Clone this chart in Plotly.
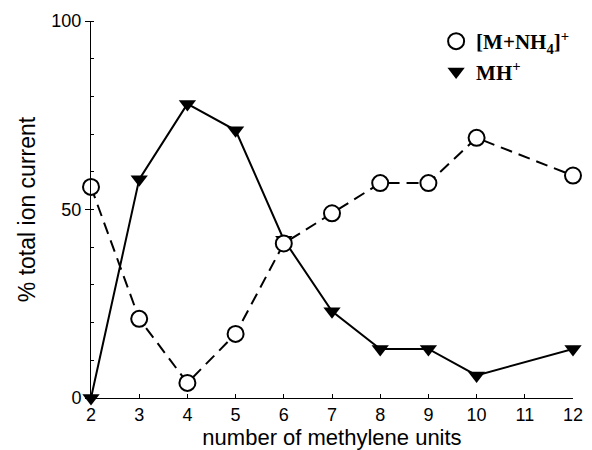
import plotly.graph_objects as go

methylene = [2, 3, 4, 5, 6, 7, 8, 9, 10, 12]
nh4_adduct = [56, 21, 4, 17, 41, 49, 57, 57, 69, 59]
mh_plus = [0, 58, 78, 71, 42, 23, 13, 13, 6, 13]
x_ticks = [2, 3, 4, 5, 6, 7, 8, 9, 10, 11, 12]
y_ticks = [0, 50, 100]

fig = go.Figure()
fig.add_trace(go.Scatter(
    x=methylene, y=mh_plus, mode="lines+markers", showlegend=False,
    line=dict(color="black", width=2),
    marker=dict(symbol="triangle-down", size=15, color="black"),
    cliponaxis=False))
fig.add_trace(go.Scatter(
    x=methylene, y=nh4_adduct, mode="lines+markers", showlegend=False,
    line=dict(color="black", width=2, dash="12px,7px"),
    marker=dict(symbol="circle", size=16, color="white",
                line=dict(color="black", width=2)),
    cliponaxis=False))
# legend-only entries (markers only)
fig.add_trace(go.Scatter(
    x=[None], y=[None], mode="markers", name="[M+NH<sub>4</sub>]<sup>+</sup>",
    marker=dict(symbol="circle", size=16, color="white",
                line=dict(color="black", width=2))))
fig.add_trace(go.Scatter(
    x=[None], y=[None], mode="markers", name="MH<sup>+</sup>",
    marker=dict(symbol="triangle-down", size=15, color="black")))

fig.update_layout(
    width=584, height=442,
    margin=dict(l=83, r=19, t=13, b=52, autoexpand=False),
    plot_bgcolor="white", paper_bgcolor="white",
    font=dict(family="Liberation Sans, Arial", size=18, color="black"),
    legend=dict(x=0.716, y=1.0, xanchor="left", yanchor="top",
                font=dict(family="Liberation Serif, Times New Roman", size=21,
                          color="black", weight="bold"),
                bgcolor="rgba(0,0,0,0)", itemsizing="trace"),
    xaxis=dict(range=[2, 12], tickvals=x_ticks, showline=True,
               linecolor="black", linewidth=1, ticks="inside", ticklen=4,
               tickcolor="black", showgrid=False, zeroline=False,
               tickfont=dict(size=18),
               title=dict(text="number of methylene units", standoff=0,
                          font=dict(size=22))),
    yaxis=dict(range=[0, 100], tickvals=y_ticks, showline=True,
               linecolor="black", linewidth=1, ticks="outside", ticklen=5,
               tickcolor="black", showgrid=False, zeroline=False,
               tickfont=dict(size=18),
               minor=dict(ticks="inside", dtick=10, ticklen=3, tickcolor="black"),
               title=dict(text="% total ion current", standoff=9,
                          font=dict(size=23))),
)
fig.write_html("out.html")
